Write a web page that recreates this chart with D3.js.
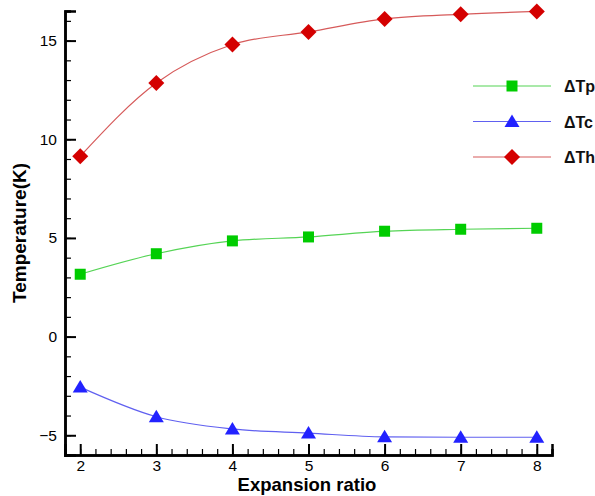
<!DOCTYPE html>
<html>
<head>
<meta charset="utf-8">
<script src="https://cdn.jsdelivr.net/npm/d3@7"></script>
<style>
  body { margin: 0; background: #fff; }
  text { font-family: "Liberation Sans", Arial, sans-serif; }
</style>
</head>
<body>
<svg id="chart" width="595" height="496"></svg>
<script>
// values
var ratios = [2, 3, 4, 5, 6, 7, 8];
var dTp = [3.16, 4.2, 4.85, 5.05, 5.34, 5.44, 5.49];
var dTc = [-2.56, -4.06, -4.68, -4.89, -5.08, -5.1, -5.1];
var dTh = [9.14, 12.85, 14.8, 15.44, 16.1, 16.33, 16.48];
var xTicks = [2, 3, 4, 5, 6, 7, 8];
var yTicks = [-5, 0, 5, 10, 15];

var series = [
    {name: "\u0394Tp", values: dTp, color: "#00cc00", line: "#55d455", shape: "square"},
    {name: "\u0394Tc", values: dTc, color: "#2222ff", line: "#6060f0", shape: "triangle"},
    {name: "\u0394Th", values: dTh, color: "#d40000", line: "#d65a5a", shape: "diamond"}
];

var margin = {left: 65, top: 11, right: 43, bottom: 41};
var width = 595 - margin.left - margin.right;
var height = 496 - margin.top - margin.bottom;

var x = d3.scaleLinear().domain([1.8, 8.2]).range([0, width]);
var y = d3.scaleLinear().domain([-6, 16.5]).range([height, 0]);

var svg = d3.select("#chart");
var chart = svg.append("g")
    .attr("transform", "translate(" + margin.left + "," + margin.top + ")");

function markerPath(shape) {
    if (shape === "square") return "M-5.5,-5.5H5.5V5.5H-5.5Z";
    if (shape === "triangle") return "M0,-7L7.5,5.5H-7.5Z";
    return "M0,-8L8,0L0,8L-8,0Z";
}

// lines and markers
var line = d3.line()
    .x(function (d, i) { return x(ratios[i]); })
    .y(function (d) { return y(d); })
    .curve(d3.curveMonotoneX);

series.forEach(function (s) {
    chart.append("path")
        .attr("d", line(s.values))
        .attr("fill", "none")
        .attr("stroke", s.line)
        .attr("stroke-width", 1.2);

    chart.selectAll(".m-" + s.shape)
        .data(s.values)
        .enter()
        .append("path")
        .attr("class", "m-" + s.shape)
        .attr("d", markerPath(s.shape))
        .attr("transform", function (d, i) {
            return "translate(" + x(ratios[i]) + "," + y(d) + ")";
        })
        .attr("fill", s.color);
});

// axes, ticks pointing inward
var xMinor = d3.range(1.8, 8.21, 0.2).map(function (v) { return Math.round(v * 10) / 10; });
var yMinor = d3.range(-6, 16.6, 1);

var xAxisMinor = d3.axisBottom(x).tickValues(xMinor).tickSize(-6).tickFormat("");
var xAxis = d3.axisBottom(x).tickValues(xTicks).tickSize(-11).tickPadding(11).tickFormat(d3.format("d"));
var yAxisMinor = d3.axisLeft(y).tickValues(yMinor).tickSize(-6).tickFormat("");
var yAxis = d3.axisLeft(y).tickValues(yTicks).tickSize(-11).tickPadding(8).tickFormat(d3.format("d"));

function styleAxis(g) {
    g.select(".domain").attr("stroke", "#000").attr("stroke-width", 2.5);
    g.selectAll(".tick line").attr("stroke", "#000").attr("stroke-width", 2);
    g.selectAll(".tick text")
        .attr("fill", "#000")
        .style("font-size", "15.5px");
}

chart.append("g")
    .attr("transform", "translate(0," + height + ")")
    .call(xAxisMinor)
    .call(styleAxis)
    .selectAll(".tick line").attr("stroke-width", 1.2);

chart.append("g")
    .attr("transform", "translate(0," + height + ")")
    .call(xAxis)
    .call(styleAxis)
    .selectAll(".tick text").attr("dy", "0.3em");

chart.append("g")
    .call(yAxisMinor)
    .call(styleAxis)
    .selectAll(".tick line").attr("stroke-width", 1.2);

chart.append("g")
    .call(yAxis)
    .call(styleAxis);

// axis titles
svg.append("text")
    .attr("x", 307)
    .attr("y", 490.5)
    .attr("text-anchor", "middle")
    .style("font-size", "18.5px")
    .style("font-weight", "bold")
    .text("Expansion ratio");

svg.append("text")
    .attr("transform", "translate(26,233) rotate(-90)")
    .attr("text-anchor", "middle")
    .style("font-size", "19px")
    .style("font-weight", "bold")
    .text("Temperature(K)");

// legend
var legend = svg.append("g");
series.forEach(function (s, i) {
    var ly = 86 + i * 35.5;
    legend.append("line")
        .attr("x1", 473).attr("x2", 551)
        .attr("y1", ly).attr("y2", ly)
        .attr("stroke", s.line)
        .attr("stroke-width", 1.2);
    legend.append("path")
        .attr("d", markerPath(s.shape))
        .attr("transform", "translate(512," + ly + ")")
        .attr("fill", s.color);
    legend.append("text")
        .attr("x", 564)
        .attr("y", ly + 6)
        .style("font-size", "16px")
        .style("font-weight", "bold")
        .attr("fill", "#111")
        .text(s.name);
});
</script>
</body>
</html>
